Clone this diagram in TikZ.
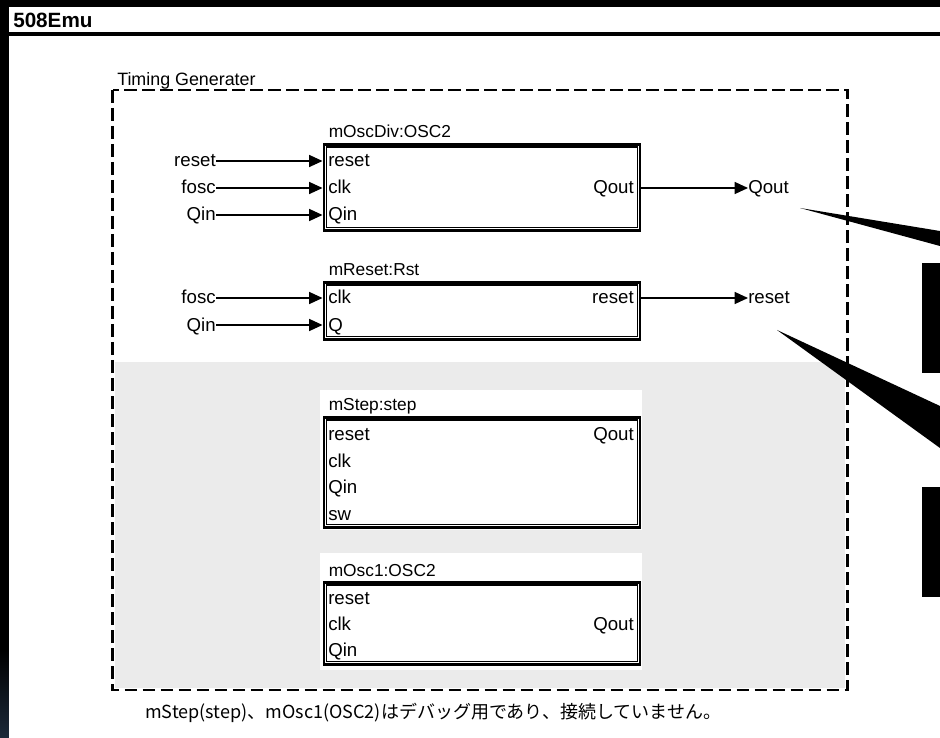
\documentclass[tikz,border=0pt]{standalone}
\usepackage{fontspec}
\setmainfont{Liberation Sans}
\newfontfamily\cjk{Noto Sans CJK JP}
\usetikzlibrary{arrows.meta}
\usetikzlibrary{math}
\definecolor{winblue}{RGB}{28,42,58}

\tikzset{
 blk/.style={draw, line width=2.2pt, minimum width=237pt, inner sep=0pt, anchor=north west},
 blklabel/.style={anchor=base west, inner sep=0pt, font=\fontsize{13}{15}\selectfont},
 port/.style={inner sep=0pt, text height=11pt, text depth=2pt, font=\fontsize{14}{16}\selectfont},
 sig/.style={-{Triangle[length=10pt,width=9pt]}, line width=0.9pt},
}

\begin{document}
\begin{tikzpicture}[x=0.75pt, y=-0.75pt]
\tikzmath{
\L=328;
\R=634;
}
\useasboundingbox (0,0) rectangle (940,738);

 %window:
 \fill[black] (0,0) rectangle (940,738);
 \shade[top color=black, bottom color=winblue] (0,650) rectangle (9,738);
 \fill[white] (9,7) rectangle (940,32);
 \fill[white] (9,36) rectangle (940,738);
 \node[anchor=base west, inner sep=0pt, font=\fontsize{15.5}{17}\selectfont\bfseries] (title) at (13,28) {508Emu};

 %unused area:
 \fill[black!8] (115,362) rectangle (845,688);
 \fill[white] (320,390) rectangle (642,530);
 \fill[white] (320,553) rectangle (642,670);

 %timing generater:
 \draw[line width=2.2pt, dash pattern=on 9.5pt off 4pt] (112.5,90) rectangle (847.5,690);
 \node[anchor=base west, inner sep=0pt, font=\fontsize{13.4}{15}\selectfont] (tg) at (117,86) {Timing Generater};

 %blocks
 \node[blk, minimum height=64.5pt] (OSC) at (322.5,143) {};
 \node[blk, minimum height=42.75pt] (RST) at (322.5,281) {};
 \node[blk, minimum height=82.5pt] (STP) at (322.5,416) {};
 \node[blk, minimum height=61.5pt] (OSCA) at (322.5,581) {};
 \foreach \b in {OSC,RST,STP,OSCA}
  \draw[line width=0.8pt] ([shift={(4,4)}]\b.north west) rectangle ([shift={(-4,-4)}]\b.south east);

 \node[blklabel] at ([shift={(6,-5)}]OSC.north west) {mOscDiv:OSC2};
 \node[blklabel] at ([shift={(6,-5)}]RST.north west) {mReset:Rst};
 \node[blklabel] at ([shift={(6,-5)}]STP.north west) {mStep:step};
 \node[blklabel] at ([shift={(6,-5)}]OSCA.north west) {mOsc1:OSC2};

 %ports
 \node[port, anchor=west] (OSCr) at (\L,161) {reset};
 \node[port, anchor=west] (OSCc) at (\L,188) {clk};
 \node[port, anchor=west] (OSCq) at (\L,215) {Qin};
 \node[port, anchor=east] (OSCo) at (\R,188) {Qout};

 \node[port, anchor=west] (RSTc) at (\L,298) {clk};
 \node[port, anchor=west] (RSTq) at (\L,325) {Q};
 \node[port, anchor=east] (RSTo) at (\R,298) {reset};

 \node[port, anchor=west] (STPr) at (\L,434) {reset};
 \node[port, anchor=west] (STPc) at (\L,461) {clk};
 \node[port, anchor=west] (STPq) at (\L,487.5) {Qin};
 \node[port, anchor=west] (STPs) at (\L,514) {sw};
 \node[port, anchor=east] (STPo) at (\R,434) {Qout};

 \node[port, anchor=west] (OSCAr) at (\L,598) {reset};
 \node[port, anchor=west] (OSCAc) at (\L,624) {clk};
 \node[port, anchor=west] (OSCAq) at (\L,650) {Qin};
 \node[port, anchor=east] (OSCAo) at (\R,624) {Qout};

 %inputs
 \node[port, anchor=east] (IN1) at (216,161) {reset};
 \node[port, anchor=east] (IN2) at (216,188) {fosc};
 \node[port, anchor=east] (IN3) at (216,215) {Qin};
 \node[port, anchor=east] (IN4) at (216,298) {fosc};
 \node[port, anchor=east] (IN5) at (216,325) {Qin};
 \foreach \i in {IN1,IN2,IN3}
  \draw[sig] (\i) -- (\i -| OSC.west);
 \foreach \i in {IN4,IN5}
  \draw[sig] (\i) -- (\i -| RST.west);

 %outputs
 \node[port, anchor=west] (OUT1) at (748,188) {Qout};
 \node[port, anchor=west] (OUT2) at (748,298) {reset};
 \draw[sig] (OSC.east |- OUT1) -- (OUT1);
 \draw[sig] (RST.east |- OUT2) -- (OUT2);

 %callouts (cut off)
 \fill[black] (800,208) -- (940,231) -- (940,246) -- cycle;
 \fill[black] (922,263) rectangle (940,373);
 \fill[black] (777,330) -- (940,406) -- (940,448) -- cycle;
 \fill[black] (922,487) rectangle (940,597);

 %note
 \node[anchor=base west, inner sep=0pt, font=\cjk\fontsize{13.5}{15}\selectfont] (note) at (145,718)
  {mStep(step)、mOsc1(OSC2)はデバッグ用であり、接続していません。};
\end{tikzpicture}
\end{document}
